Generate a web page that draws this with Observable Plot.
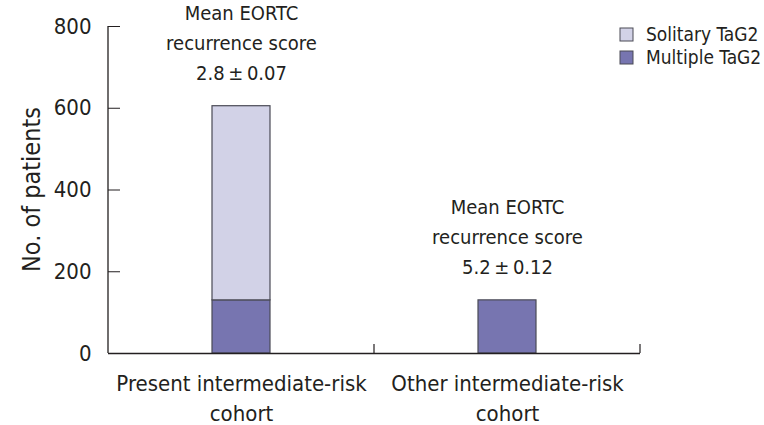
<!DOCTYPE html>
<html><head><meta charset="utf-8">
<script src="https://cdn.jsdelivr.net/npm/d3@7"></script>
<script src="https://cdn.jsdelivr.net/npm/@observablehq/plot@0.6"></script>
<style>
body{margin:0;background:#fff;}
svg{font-family:"Liberation Sans Narrow","DejaVu Sans Condensed",sans-serif;}
</style></head><body>
<div id="chart"></div>
<script>
const cohorts = ["Present intermediate-risk\ncohort", "Other intermediate-risk\ncohort"];
const groups = ["Solitary TaG2", "Multiple TaG2"];
const multiple = [130, 130];
const solitary = [475, 0];
const scoreLabels = ["Mean EORTC\nrecurrence score\n2.8\u2009±\u20090.07", "Mean EORTC\nrecurrence score\n5.2\u2009±\u20090.12"];
const yTicks = [0, 200, 400, 600, 800];
const colors = ["#d2d2e7", "#7775b0"];

const rows = [];
cohorts.forEach((c, i) => {
  rows.push({cohort: c, group: groups[1], value: multiple[i]});
  if (solitary[i] > 0) rows.push({cohort: c, group: groups[0], value: solitary[i]});
});
const totals = cohorts.map((c, i) => ({cohort: c, total: multiple[i] + solitary[i], label: scoreLabels[i]}));

const plot = Plot.plot({
  width: 764, height: 425,
  marginLeft: 108, marginRight: 124, marginTop: 26, marginBottom: 72,
  style: {fontFamily: '"Liberation Sans Narrow","DejaVu Sans Condensed",sans-serif', background: "#fff", color: "#231f20"},
  x: {domain: cohorts, paddingInner: 0.782, paddingOuter: 0.391, label: null},
  y: {domain: [0, 800], label: null},
  color: {domain: groups, range: colors},
  marks: [
    Plot.barY(rows, {x: "cohort", y: "value", fill: "group", stroke: "#4a4a55", strokeWidth: 1.2, order: groups.slice().reverse()}),
    Plot.ruleY([0], {stroke: "#231f20", strokeWidth: 1.3}),
    Plot.axisY({ticks: yTicks, tickSize: -12, tickPadding: 29, fontSize: 22, stroke: "#231f20", label: null}),
    Plot.axisX({tickSize: 0, tickPadding: 16, fontSize: 22, lineHeight: 1.36, label: null}),
    Plot.text(totals, {x: "cohort", y: "total", text: "label", lineAnchor: "bottom", dy: -26, fontSize: 20, lineHeight: 1.5, fill: "#231f20"})
  ]
});

const svg = d3.select(plot);
const yS = plot.scale("y"), xS = plot.scale("x");
const x0 = xS.range[0];
// y-axis line
svg.append("line").attr("x1", x0).attr("x2", x0).attr("y1", yS.apply(800)).attr("y2", yS.apply(0)).attr("stroke", "#231f20").attr("stroke-width", 1.3);
// band boundary ticks on x axis
const step = xS.step;
cohorts.forEach(c => {
  const bx = xS.apply(c) + xS.bandwidth / 2 + step / 2;
  svg.append("line").attr("x1", bx).attr("x2", bx).attr("y1", yS.apply(0)).attr("y2", yS.apply(0) - 9).attr("stroke", "#231f20").attr("stroke-width", 1.2);
});
// y-axis title
svg.append("text").attr("transform", `translate(31,${(yS.apply(800)+yS.apply(0))/2}) rotate(-90)`)
  .attr("text-anchor", "middle").attr("dy", "0.35em").attr("font-size", 25).attr("fill", "#231f20").text("No. of patients");
// legend
const lg = svg.append("g").attr("transform", "translate(620,28)");
groups.forEach((g, i) => {
  const row = lg.append("g").attr("transform", `translate(0,${i * 23})`);
  row.append("rect").attr("width", 13).attr("height", 13).attr("fill", colors[i]).attr("stroke", "#4a4a55").attr("stroke-width", 1);
  row.append("text").attr("x", 26).attr("y", 6.5).attr("dy", "0.35em").attr("text-anchor", "start").attr("font-size", 19).attr("fill", "#231f20").text(g);
});
document.getElementById("chart").appendChild(plot);
</script></body></html>
